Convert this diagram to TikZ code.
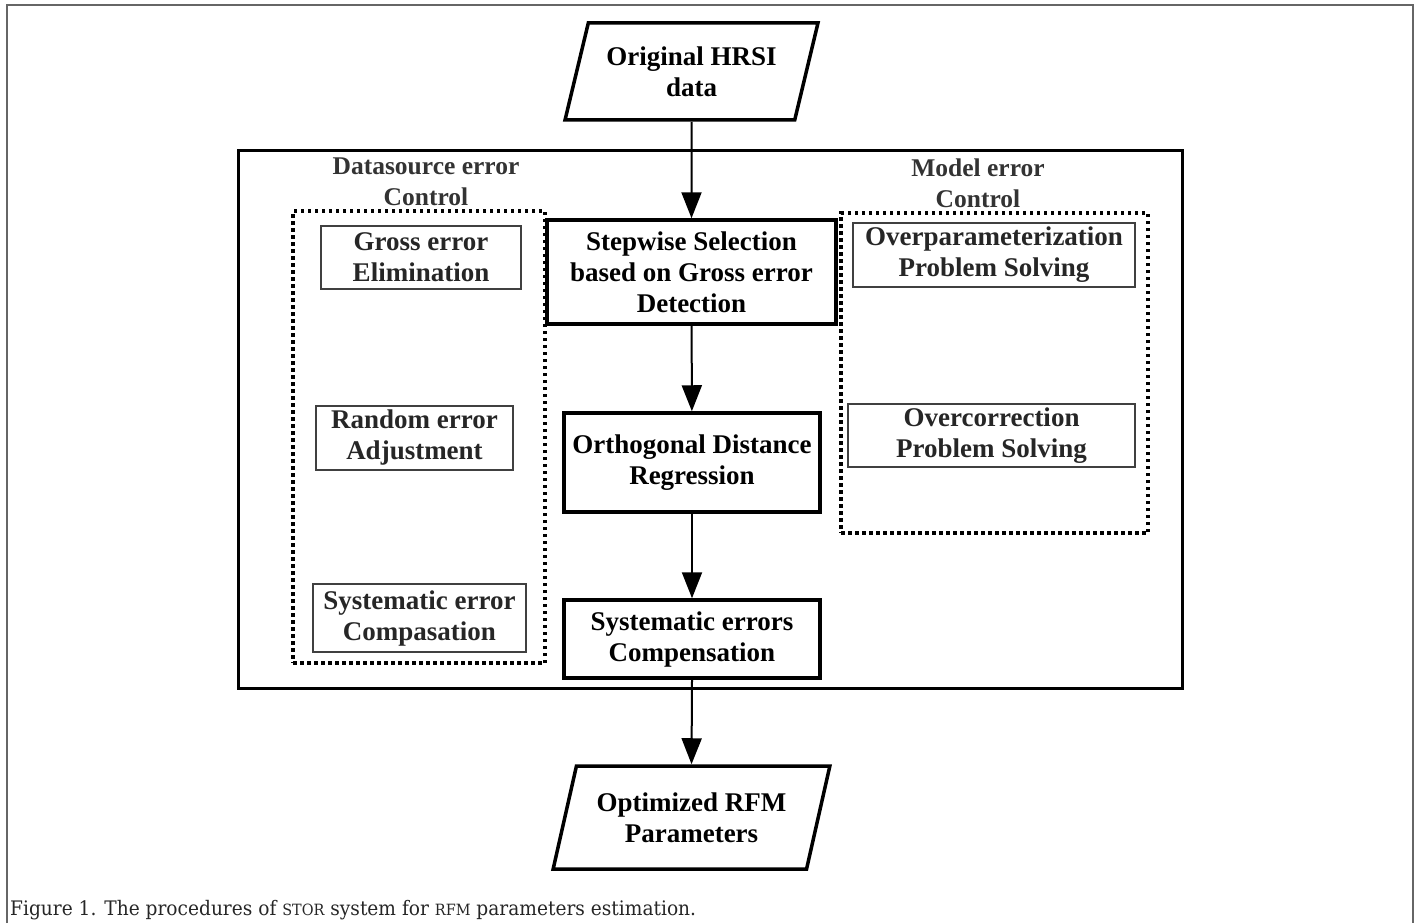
\documentclass[tikz,border=0pt]{standalone}
\usepackage{fontspec}
\setmainfont{Liberation Serif}
\newfontfamily\captionfont[FakeStretch=0.93]{DejaVu Serif}
\usetikzlibrary{arrows.meta, positioning, shapes.geometric}

\begin{document}
\begin{tikzpicture}[
  x=1pt, y=-1pt,
  font=\fontsize{27}{31}\selectfont\bfseries,
  mainbox/.style={draw=black, line width=3.5pt, align=center, inner sep=0pt},
  subbox/.style={draw=black!75, line width=1.6pt, align=center, inner sep=0pt,
                 text=black!85},
  databox/.style={trapezium, trapezium left angle=69, trapezium right angle=111,
                  trapezium stretches=true, draw=black, line width=3.5pt,
                  align=center, inner sep=0pt},
  ctrlgroup/.style={draw=black, line width=3.5pt, dash pattern=on 3.5pt off 3.5pt},
  grouplabel/.style={align=center, text=black!80,
                     font=\fontsize{25.5}{31}\selectfont\bfseries},
  flow/.style={-{Triangle[length=26pt, width=20pt]}, line width=2pt},
]
\useasboundingbox (0,0) rectangle (1420,923);
\draw[black!60, line width=2pt] (7,923) -- (7,5) -- (1413,5) -- (1413,923);

\node[draw=black, line width=3pt, minimum width=944pt, minimum height=538pt]
  (frame) at (710,419) {};

\node[ctrlgroup, minimum width=252pt, minimum height=452pt] (srcgroup) at (419,437) {};
\node[ctrlgroup, minimum width=307pt, minimum height=320pt] (modgroup) at (994.5,373) {};

\node[grouplabel] (srclabel) at (426,181.5) {Datasource error\\Control};
\node[grouplabel] (modlabel) at (978,183.5) {Model error\\Control};

\node[databox, minimum width=253pt, minimum height=97pt] (hrsi) at (691.5,71.5)
  {Original HRSI\\data};

\node[mainbox, minimum width=289pt, minimum height=104pt] (step) at (691.5,272)
  {Stepwise Selection\\based on Gross error\\Detection};
\node[mainbox, minimum width=256pt, minimum height=99pt] (odr) at (692,462.5)
  {Orthogonal Distance\\Regression};
\node[mainbox, minimum width=256pt, minimum height=78pt] (sec) at (692,639)
  {Systematic errors\\Compensation};

\node[databox, minimum width=277pt, minimum height=103pt] (rfm) at (691.5,817.5)
  {Optimized RFM\\Parameters};

\node[subbox, minimum width=200pt, minimum height=63pt] (gross) at (421,257.5)
  {Gross error\\Elimination};
\node[subbox, minimum width=197pt, minimum height=64pt] (random) at (414.5,438)
  {Random error\\Adjustment};
\node[subbox, minimum width=213pt, minimum height=68pt] (system) at (419.5,618)
  {Systematic error\\Compasation};

\node[subbox, minimum width=282pt, minimum height=64pt] (overpar) at (994,255)
  {Overparameterization\\Problem Solving};
\node[subbox, minimum width=287pt, minimum height=63pt] (overcor) at (991.5,435.5)
  {Overcorrection\\Problem Solving};

\draw[flow] (hrsi.south) -- (step.north);
\draw[flow] (step) -- (odr);
\draw[flow] (odr) -- (sec);
\draw[flow] (sec.south) -- (rfm.north);

\node[anchor=base west, inner sep=0pt, text=black!85,
      font=\captionfont\mdseries\fontsize{20}{24}\selectfont] (caption) at (10,915)
  {Figure 1. The procedures of {\fontsize{15.5}{24}\selectfont STOR} system for
   {\fontsize{15.5}{24}\selectfont RFM} parameters estimation.};

\end{tikzpicture}
\end{document}
